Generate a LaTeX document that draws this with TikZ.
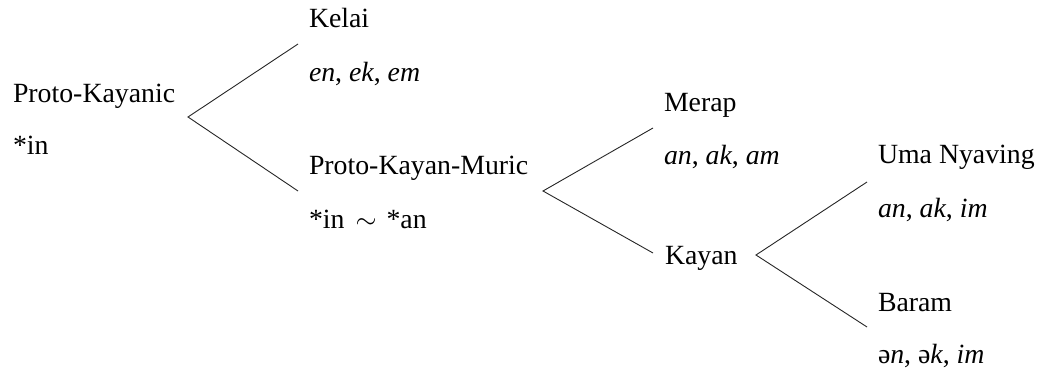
\documentclass[tikz,border=0pt]{standalone}
\usepackage{fontspec}
\usepackage{graphicx}
\setmainfont{Liberation Serif}
\begin{document}
\begin{tikzpicture}[x=1pt,y=-1pt,
  lbl/.style={anchor=base west,inner sep=0pt,outer sep=0pt,font=\fontsize{27.8}{30}\selectfont},
  branch/.style={line width=0.9pt,draw=black!85}]
\useasboundingbox (0,0) rectangle (1042,374);
% labels
\node[lbl] (pk)   at (13,103)  {Proto-Kayanic};
\node[lbl] (pkr)  at (13,155)  {*in};
\node[lbl] (kel)  at (309,28)  {Kelai};
\node[lbl] (kelr) at (309,82)  {\textit{en}, \textit{ek}, \textit{em}};
\node[lbl] (pkm)  at (309,175) {Proto-Kayan-Muric};
\node[lbl] (pkmr) at (309,229) {*in\hspace{11pt}\resizebox{21pt}{!}{$\sim$}\hspace{10pt}*an};
\node[lbl] (mer)  at (664,112) {Merap};
\node[lbl] (merr) at (664,165) {\textit{an}, \textit{ak}, \textit{am}};
\node[lbl] (kay)  at (665,265) {Kayan};
\node[lbl] (uma)  at (878,164) {Uma Nyaving};
\node[lbl] (umar) at (878,218) {\textit{an}, \textit{ak}, \textit{im}};
\node[lbl] (bar)  at (878,312) {Baram};
\node[lbl] (barr) at (878,363) {ə\textit{n}, ə\textit{k}, \textit{im}};
% branch points
\coordinate (v1) at (188,117);
\coordinate (v1a) at (298,44);
\coordinate (v1b) at (298,191);
\coordinate (v2) at (543,191);
\coordinate (v2a) at (653,128);
\coordinate (v2b) at (653,253);
\coordinate (v3) at (756,255);
\coordinate (v3a) at (867,182);
\coordinate (v3b) at (867,327);
\draw[branch] (v1a) -- (v1) -- (v1b);
\draw[branch] (v2a) -- (v2) -- (v2b);
\draw[branch] (v3a) -- (v3) -- (v3b);
\end{tikzpicture}
\end{document}
